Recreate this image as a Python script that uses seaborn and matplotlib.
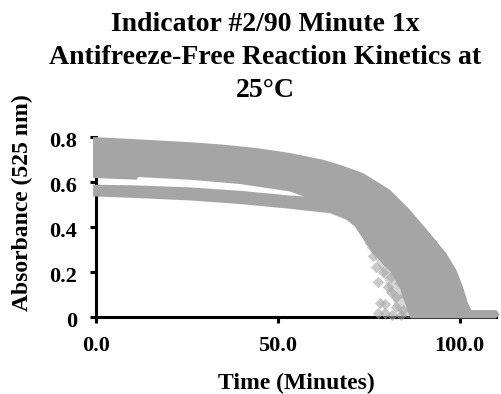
import matplotlib
matplotlib.use("Agg")
import matplotlib.pyplot as plt
import matplotlib.transforms as mtransforms
import pandas as pd
import seaborn as sns

# Dense kinetic readings, stored as the outline of each group of wells
upper_top_time = [-0.8, 7.5, 16.7, 25.8, 35.0, 44.1, 53.3, 62.4, 67.0, 73.4,
                  80.8, 86.3, 91.8, 96.3, 99.1, 100.9, 102.3, 103.2, 110.1, 111.0]
upper_top_abs = [0.800, 0.793, 0.785, 0.777, 0.766, 0.751, 0.729, 0.699, 0.677, 0.640,
                 0.566, 0.477, 0.373, 0.284, 0.209, 0.135, 0.061, 0.031, 0.031, 0.012]
upper_bottom_time = [-0.8, 11.2, 11.6, 25.8, 39.6, 53.3, 57.0, 61.5, 64.3, 68.9, 71.2,
                     73.0, 75.0, 78.0, 81.0, 83.5, 85.0, 85.8, 86.5, 110.0, 111.0]
upper_bottom_abs = [0.618, 0.610, 0.622, 0.610, 0.591, 0.558, 0.536, 0.466, 0.462, 0.432, 0.402,
                    0.358, 0.310, 0.250, 0.200, 0.130, 0.060, 0.020, -0.006, -0.006, 0.012]

lower_top_time = [-0.8, 11.0, 25.8, 39.6, 53.3, 57.0, 61.5]
lower_top_abs = [0.588, 0.585, 0.576, 0.561, 0.540, 0.536, 0.550]
lower_bottom_time = [-0.8, 11.0, 25.8, 39.6, 53.3, 61.5]
lower_bottom_abs = [0.536, 0.529, 0.518, 0.502, 0.481, 0.466]

# Partly overlapping readings at the front of the drop
fringe_time = [73.0, 74.5, 76.5, 78.5, 80.5, 82.5, 84.0, 86.5, 85.0, 83.5, 81.0, 78.0, 75.0]
fringe_abs = [0.358, 0.330, 0.270, 0.200, 0.120, 0.040, 0.000, -0.006, 0.060, 0.130, 0.200, 0.250, 0.310]

# Individual readings of the fastest-dropping wells
sparse_time = [75.3, 76.2, 76.6, 77.1, 77.6, 78.0, 77.6, 78.9, 79.4, 80.3, 81.2, 81.2,
               82.6, 82.6, 84.0, 83.5, 80.0, 78.5, 79.5, 76.0, 85.0, 84.5, 83.0, 81.5]
sparse_abs = [0.330, 0.269, 0.298, 0.224, 0.157, 0.061, 0.016, 0.200, 0.016, 0.135, 0.180, 0.113,
              0.090, 0.046, 0.010, 0.150, 0.240, 0.280, 0.060, 0.310, 0.100, 0.030, 0.200, 0.010]

x_ticks = [0, 50, 100]
x_tick_labels = ["0.0", "50.0", "100.0"]
y_ticks = [0, 0.2, 0.4, 0.6, 0.8]
y_tick_labels = ["0", "0.2", "0.4", "0.6", "0.8"]

GRAY = "#a5a5a5"

sns.set_style("ticks")
plt.rcParams["font.family"] = ["Liberation Serif", "DejaVu Serif"]
plt.rcParams["font.weight"] = "bold"
plt.rcParams["text.color"] = "black"

fig = plt.figure(figsize=(5.02, 3.94), dpi=100)
ax = fig.add_axes([96 / 502, 1 - 317 / 394, 400 / 502, 180 / 394])

# Solid bands of overlapping readings
ax.fill(upper_top_time + upper_bottom_time[::-1],
        upper_top_abs + upper_bottom_abs[::-1],
        color=GRAY, lw=0, zorder=3, clip_on=False)
ax.fill(lower_top_time + lower_bottom_time[::-1],
        lower_top_abs + lower_bottom_abs[::-1],
        color=GRAY, lw=0, zorder=3, clip_on=False)
ax.fill(fringe_time, fringe_abs, color=GRAY, alpha=0.45, lw=0, zorder=3, clip_on=False)

sparse = pd.DataFrame({"time": sparse_time, "absorbance": sparse_abs})
sns.scatterplot(data=sparse, x="time", y="absorbance", marker="D", s=34,
                color=GRAY, alpha=0.6, linewidth=0, zorder=3, clip_on=False, ax=ax)

ax.set_xlim(0, 110)
ax.set_ylim(0, 0.8)
ax.set_xticks(x_ticks, x_tick_labels)
ax.set_yticks(y_ticks, y_tick_labels)
ax.set_xlabel("")
ax.set_ylabel("")

for side in ["top", "right"]:
    ax.spines[side].set_visible(False)
for side in ["left", "bottom"]:
    ax.spines[side].set_linewidth(2.2)
    ax.spines[side].set_color("black")
    ax.spines[side].set_zorder(2)

ax.tick_params(axis="both", direction="out", length=4.5, width=2.2, color="black",
               labelsize=16, labelcolor="black")
ax.tick_params(axis="x", pad=9)
ax.tick_params(axis="y", pad=9)
shift = mtransforms.ScaledTranslation(0, -2 / 72, fig.dpi_scale_trans)
for lab in ax.get_yticklabels():
    lab.set_transform(lab.get_transform() + shift)
    lab.set_fontweight("bold")
for lab in ax.get_xticklabels():
    lab.set_fontweight("bold")

fig.text(265 / 502, 1 - 12 / 394,
         "Indicator #2/90 Minute 1x\nAntifreeze-Free Reaction Kinetics at\n25°C",
         ha="center", va="top", fontsize=20, fontweight="bold", linespacing=1.42,
         color="black")
fig.text(22 / 502, 1 - 203 / 394, "Absorbance (525 nm)", rotation=90,
         ha="center", va="center", fontsize=17, fontweight="bold", color="black")
fig.text(296 / 502, 1 - 389 / 394, "Time (Minutes)",
         ha="center", va="baseline", fontsize=17, fontweight="bold", color="black")

fig.savefig("out.png", dpi=100)
